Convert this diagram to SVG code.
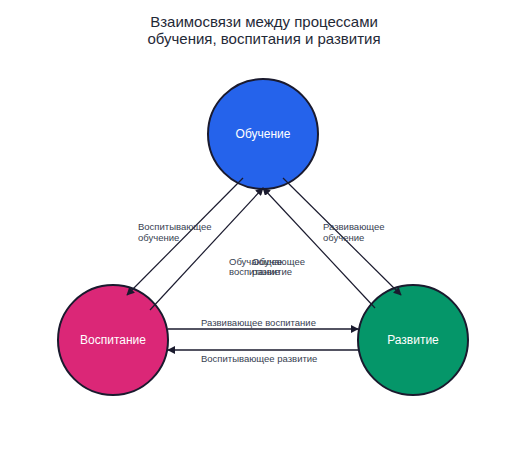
<svg xmlns="http://www.w3.org/2000/svg" width="526" height="454" viewBox="0 0 526 454">
<style>
.title{font-family:"Liberation Sans",Arial,sans-serif;font-size:15px;fill:#1f2937;text-anchor:middle}
.node circle{stroke:#1a1a2e;stroke-width:2}
.node text{font-family:"Liberation Sans",Arial,sans-serif;font-size:12px;fill:#ffffff;text-anchor:middle}
.edge{stroke:#1a1a2e;stroke-width:1.2;fill:none;marker-end:url(#arrow)}
.edge.h{stroke-width:1.6}
.lbl{font-family:"Liberation Sans",Arial,sans-serif;font-size:9.5px;fill:#374151}
</style>
<defs>
<marker id="arrow" viewBox="0 0 10 10" refX="9" refY="5" markerWidth="8" markerHeight="8" markerUnits="userSpaceOnUse" orient="auto">
<path d="M0,0 L10,5 L0,10 z" fill="#1a1a2e"/>
</marker>
</defs>
<rect width="526" height="454" fill="#ffffff"/>
<text class="title" x="264" y="27">Взаимосвязи между процессами</text>
<text class="title" x="264" y="44">обучения, воспитания и развития</text>
<g id="node-obuchenie" class="node">
<circle cx="263" cy="134" r="55" fill="#2563eb"/>
<text x="263" y="138">Обучение</text>
</g>
<g id="node-vospitanie" class="node">
<circle cx="113" cy="340" r="55" fill="#db2777"/>
<text x="113" y="344">Воспитание</text>
</g>
<g id="node-razvitie" class="node">
<circle cx="413" cy="340" r="55" fill="#059669"/>
<text x="413" y="344">Развитие</text>
</g>
<g id="connectors">
<line class="edge" x1="243" y1="178" x2="127" y2="295"/>
<line class="edge" x1="150" y1="310" x2="263" y2="188"/>
<line class="edge" x1="375" y1="308" x2="263" y2="188"/>
<line class="edge" x1="283" y1="178" x2="401" y2="295"/>
<line class="edge h" x1="168" y1="329" x2="358" y2="329"/>
<line class="edge h" x1="358" y1="350" x2="168" y2="350"/>
</g>
<g id="labels">
<text class="lbl" x="138" y="230">Воспитывающее</text>
<text class="lbl" x="138" y="241">обучение</text>
<text class="lbl" x="229" y="265">Обучающее</text>
<text class="lbl" x="229" y="275">воспитание</text>
<text class="lbl" x="252" y="265">Обучающее</text>
<text class="lbl" x="252" y="275">развитие</text>
<text class="lbl" x="323" y="230">Развивающее</text>
<text class="lbl" x="323" y="241">обучение</text>
<text class="lbl" x="201" y="326">Развивающее воспитание</text>
<text class="lbl" x="201" y="362">Воспитывающее развитие</text>
</g>
</svg>
